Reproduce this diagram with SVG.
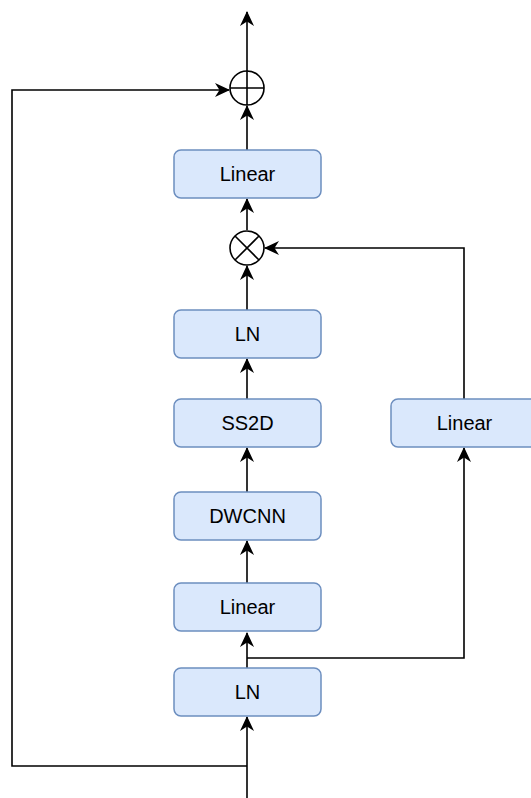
<svg xmlns="http://www.w3.org/2000/svg" width="531" height="798" viewBox="0 0 531 798">
  <style>
    .box { fill: #dae8fc; stroke: #6c8ebf; stroke-width: 1.5; }
    .lbl { font-family: "Liberation Sans", Arial, Helvetica, sans-serif; font-size: 20px; fill: #000; text-anchor: middle; }
    .wire { fill: none; stroke: #000; stroke-width: 1.6; }
    .arr { marker-end: url(#head); }
    .op { fill: #fff; stroke: #000; stroke-width: 1.6; }
  </style>
  <defs>
    <marker id="head" viewBox="0 0 15 15" refX="14" refY="7.5" markerWidth="15" markerHeight="15" markerUnits="userSpaceOnUse" orient="auto">
      <path d="M0,0.5 L15,7.5 L0,14.5 L4.5,7.5 Z" fill="#000"/>
    </marker>
  </defs>

  <!-- connectors -->
  <g id="connectors">
    <!-- input into bottom LN -->
    <path class="wire arr" d="M247,798 L247,717"/>
    <!-- residual path: input around to the adder -->
    <path class="wire arr" d="M247,766 L12,766 L12,90 L229,90"/>
    <!-- LN -> Linear -->
    <path class="wire arr" d="M247,668 L247,633"/>
    <!-- gate branch: LN output -> right Linear -->
    <path class="wire arr" d="M247,658 L464,658 L464,448"/>
    <!-- right Linear -> multiplier -->
    <path class="wire arr" d="M464,399 L464,248 L265,248"/>
    <!-- Linear -> DWCNN -->
    <path class="wire arr" d="M247,583 L247,541"/>
    <!-- DWCNN -> SS2D -->
    <path class="wire arr" d="M247,492 L247,448"/>
    <!-- SS2D -> LN -->
    <path class="wire arr" d="M247,399 L247,359"/>
    <!-- LN -> multiplier -->
    <path class="wire arr" d="M247,310 L247,266"/>
    <!-- multiplier -> Linear -->
    <path class="wire arr" d="M247,230 L247,199"/>
    <!-- Linear -> adder -->
    <path class="wire arr" d="M247,150 L247,106"/>
    <!-- adder -> output -->
    <path class="wire arr" d="M247,72 L247,12"/>
  </g>

  <!-- nodes -->
  <g id="add">
    <circle class="op" cx="247" cy="88" r="17"/>
    <path class="wire" d="M230,88 L264,88 M247,71 L247,105"/>
  </g>
  <g id="linear-out">
    <rect class="box" x="174" y="150" width="147" height="48" rx="7"/>
    <text class="lbl" x="247.5" y="181">Linear</text>
  </g>
  <g id="mul">
    <circle class="op" cx="247" cy="248" r="17"/>
    <path class="wire" d="M235,236 L259,260 M259,236 L235,260"/>
  </g>
  <g id="ln-top">
    <rect class="box" x="174" y="310" width="147" height="48" rx="7"/>
    <text class="lbl" x="247.5" y="341">LN</text>
  </g>
  <g id="ss2d">
    <rect class="box" x="174" y="399" width="147" height="48" rx="7"/>
    <text class="lbl" x="247.5" y="430">SS2D</text>
  </g>
  <g id="linear-gate">
    <rect class="box" x="391" y="399" width="147" height="48" rx="7"/>
    <text class="lbl" x="464.5" y="430">Linear</text>
  </g>
  <g id="dwcnn">
    <rect class="box" x="174" y="492" width="147" height="48" rx="7"/>
    <text class="lbl" x="247.5" y="523">DWCNN</text>
  </g>
  <g id="linear-in">
    <rect class="box" x="174" y="583" width="147" height="48" rx="7"/>
    <text class="lbl" x="247.5" y="614">Linear</text>
  </g>
  <g id="ln-bottom">
    <rect class="box" x="174" y="668" width="147" height="48" rx="7"/>
    <text class="lbl" x="247.5" y="699">LN</text>
  </g>
</svg>
